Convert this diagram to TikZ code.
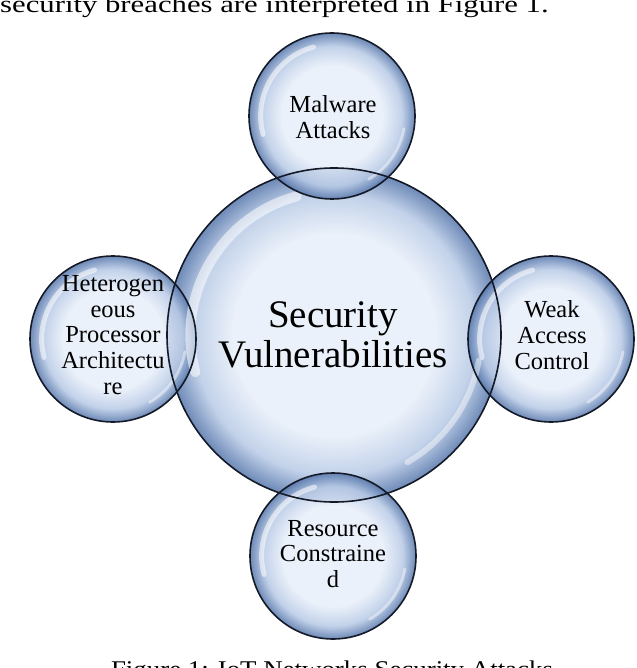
\documentclass[tikz,border=0pt]{standalone}
\usepackage{fontspec}
\setmainfont{Liberation Serif}
\usetikzlibrary{calc}
\definecolor{bubC}{RGB}{232,239,249}
\definecolor{bubM}{RGB}{184,202,230}
\definecolor{bubE}{RGB}{84,117,170}
\definecolor{bubLine}{RGB}{20,26,40}
\pgfdeclareradialshading{bubble}{\pgfpoint{0bp}{0bp}}{color(0bp)=(bubC); color(15bp)=(bubC); color(21bp)=(bubM); color(25bp)=(bubE); color(50bp)=(bubE)}
\begin{document}
\begin{tikzpicture}[x=1pt,y=-1pt,
  bubble/.style={circle, inner sep=0pt, outer sep=0pt, shading=bubble, fill opacity=0.85, minimum size=#1},
  rim/.style={draw=bubLine, line width=1.6pt},
  hilite/.style={draw=white, line cap=round, opacity=0.55},
  btext/.style={font=\fontsize{24.5}{25.8}\selectfont, align=center, text=black, inner sep=0pt},
  bigtext/.style={font=\fontsize{39}{40}\selectfont, align=center, text=black, inner sep=0pt},
  pagetext/.style={font=\fontsize{24}{24}\selectfont, text=black, inner sep=0pt}]
\useasboundingbox (0,0) rectangle (636,668);
% page text (cut by the frame, as in the reference)
\node[pagetext, anchor=base west] (top) at (0,13) {\scalebox{1.28}[1]{security breaches are interpreted in Figure 1.}};
\node[pagetext, anchor=base] (cap) at (332,677) {\scalebox{1.12}[1]{Figure 1: IoT Networks Security Attacks}};
% bubble fills
\node[bubble=334] (vul) at (334,335) {};
\node[bubble=166] (mal) at (332,116) {};
\node[bubble=166] (het) at (113,339) {};
\node[bubble=166] (weak) at (551,339) {};
\node[bubble=166] (res) at (333,556) {};
% highlights
\foreach \n/\r in {vul/167, mal/83, het/83, weak/83, res/83}{
  \draw[hilite, line width=0.06*\r pt] ($(\n.center)+(105:0.86*\r pt)$) arc[start angle=105, end angle=195, radius=0.86*\r pt];
  \draw[hilite, line width=0.035*\r pt, opacity=0.45] ($(\n.center)+(-10:0.88*\r pt)$) arc[start angle=-10, end angle=-60, radius=0.88*\r pt];
}
% rims
\draw[rim] (vul.center) circle[radius=167pt];
\draw[rim] (mal.center) circle[radius=83pt];
\draw[rim] (het.center) circle[radius=83pt];
\draw[rim] (weak.center) circle[radius=83pt];
\draw[rim] (res.center) circle[radius=83pt];
% texts
\node[bigtext] (vulT) at (333,335) {Security\\Vulnerabilities};
\node[btext] (malT) at (333,117) {Malware\\Attacks};
\node[btext] (hetT) at (113,335) {Heterogen\\eous\\Processor\\Architectu\\re};
\node[btext] (weakT) at (552,335) {Weak\\Access\\Control};
\node[btext] (resT) at (333,554) {Resource\\Constraine\\d};
\end{tikzpicture}
\end{document}
